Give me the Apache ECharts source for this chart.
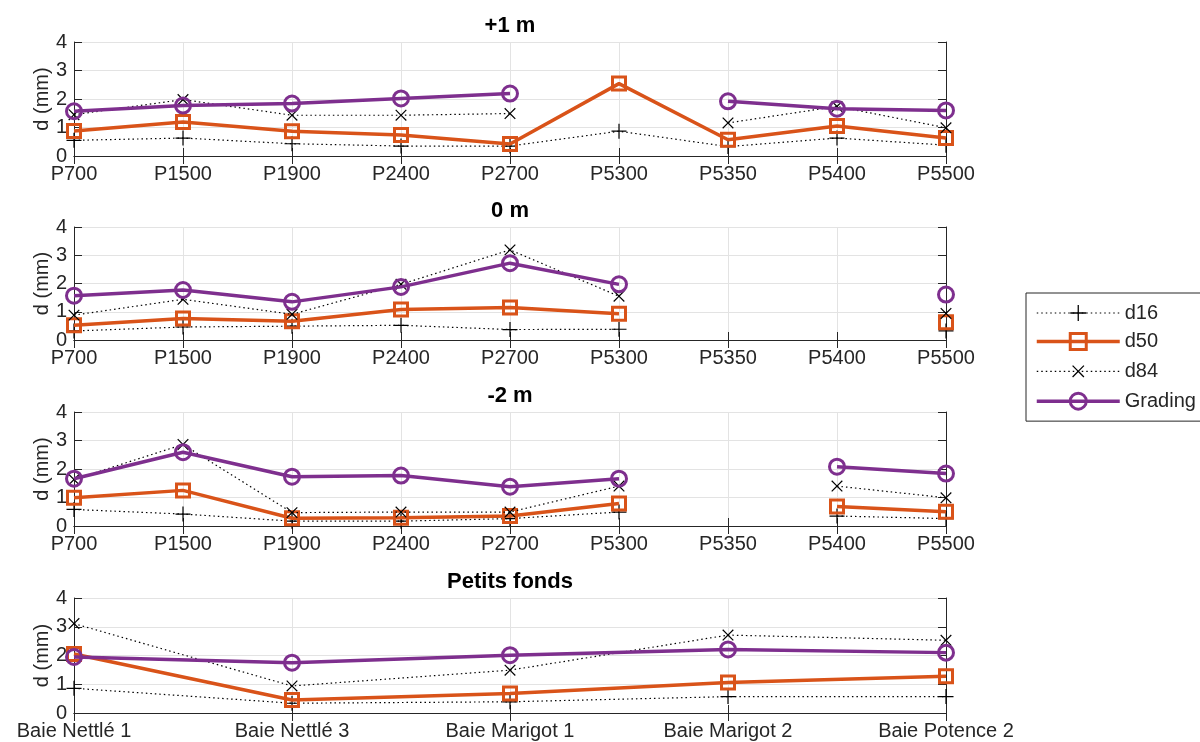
<!DOCTYPE html>
<html>
<head>
<meta charset="utf-8">
<script src="https://cdn.jsdelivr.net/npm/echarts@6/dist/echarts.min.js"></script>
<style>html,body{margin:0;padding:0;background:#fff}#c{width:1200px;height:742px}</style>
</head>
<body>
<div id="c"></div>
<script>
// ---- data ----
const cats = ['P700','P1500','P1900','P2400','P2700','P5300','P5350','P5400','P5500'];
const pfCats = ['Baie Nettlé 1','Baie Nettlé 3','Baie Marigot 1','Baie Marigot 2','Baie Potence 2'];
const panelTitles = ['+1 m','0 m','-2 m','Petits fonds'];
const seriesNames = ['d16','d50','d84','Grading'];
const yTicks = [0,1,2,3,4];

const p1_d16 = [0.55,0.63,0.43,0.35,0.35,0.87,0.33,0.63,0.38];
const p1_d50 = [0.88,1.19,0.87,0.74,0.42,2.54,0.57,1.05,0.63];
const p1_d84 = [1.45,1.98,1.43,1.43,1.49,null,1.16,1.74,0.99];
const p1_gr  = [1.57,1.77,1.84,2.02,2.19,null,1.92,1.66,1.60];

const p2_d16 = [0.32,0.46,0.49,0.52,0.37,0.38,null,null,0.32];
const p2_d50 = [0.52,0.76,0.66,1.08,1.15,0.93,null,null,0.63];
const p2_d84 = [0.88,1.44,0.91,1.97,3.19,1.55,null,null,0.94];
const p2_gr  = [1.57,1.77,1.35,1.88,2.72,1.97,null,null,1.61];

const p3_d16 = [0.58,0.42,0.17,0.17,0.26,0.49,null,0.35,0.26];
const p3_d50 = [0.99,1.25,0.27,0.29,0.35,0.79,null,0.68,0.50];
const p3_d84 = [1.63,2.86,0.47,0.49,0.49,1.40,null,1.40,0.99];
const p3_gr  = [1.66,2.59,1.73,1.77,1.38,1.66,null,2.08,1.84];

const p4_d16 = [0.86,0.34,0.39,0.57,0.57];
const p4_d50 = [2.05,0.45,0.68,1.06,1.28];
const p4_d84 = [3.11,0.94,1.49,2.71,2.53];
const p4_gr  = [1.95,1.75,2.01,2.21,2.10];

// ---- build ----
const panels = [
  {cats: cats, data: [p1_d16,p1_d50,p1_d84,p1_gr]},
  {cats: cats, data: [p2_d16,p2_d50,p2_d84,p2_gr]},
  {cats: cats, data: [p3_d16,p3_d50,p3_d84,p3_gr]},
  {cats: pfCats, data: [p4_d16,p4_d50,p4_d84,p4_gr]}
];
const gridTops = [42, 227, 412, 598];
const gridHeights = [114, 113, 114, 115];
const LEFT = 74, WIDTH = 872;
const TXT = '#262626';
const FONT = 'Liberation Sans, Arial, sans-serif';
const ORANGE = '#D95319', PURPLE = '#7E2F8E';
const PLUS = 'path://M-0.08,-1 L0.08,-1 L0.08,-0.08 L1,-0.08 L1,0.08 L0.08,0.08 L0.08,1 L-0.08,1 L-0.08,0.08 L-1,0.08 L-1,-0.08 L-0.08,-0.08 Z';

const grids = [], xAxes = [], yAxes = [], series = [], graphics = [];
panels.forEach((p, i) => {
  grids.push({left: LEFT, top: gridTops[i], width: WIDTH, height: gridHeights[i], containLabel: false});
});
panels.forEach((p, i) => {
  xAxes.push({
    type: 'category', gridIndex: i, data: p.cats, boundaryGap: false, position: 'bottom',
    axisLine: {show: true, lineStyle: {color: TXT, width: 1}},
    axisTick: {show: true, inside: true, length: 8, lineStyle: {color: TXT}},
    axisLabel: {color: TXT, fontSize: 20, fontFamily: FONT, margin: 8, interval: 0},
    splitLine: {show: true, lineStyle: {color: '#e3e3e3', width: 1}}
  });
});
panels.forEach((p, i) => {
  xAxes.push({
    type: 'category', gridIndex: i, data: p.cats, boundaryGap: false, position: 'top',
    axisLine: {show: true, lineStyle: {color: TXT, width: 1}},
    axisTick: {show: true, inside: true, length: 8, lineStyle: {color: TXT}},
    axisLabel: {show: false}, splitLine: {show: false}
  });
});
panels.forEach((p, i) => {
  yAxes.push({
    type: 'value', gridIndex: i, min: yTicks[0], max: yTicks[yTicks.length-1], interval: 1, position: 'left',
    name: 'd (mm)', nameLocation: 'middle', nameRotate: 90, nameGap: 22, nameMoveOverlap: false,
    nameTextStyle: {color: TXT, fontSize: 20, fontFamily: FONT},
    axisLine: {show: true, lineStyle: {color: TXT, width: 1}},
    axisTick: {show: true, inside: true, length: 8, lineStyle: {color: TXT}},
    axisLabel: {color: TXT, fontSize: 20, fontFamily: FONT, margin: 7},
    splitLine: {show: true, lineStyle: {color: '#e3e3e3', width: 1}}
  });
});
panels.forEach((p, i) => {
  yAxes.push({
    type: 'value', gridIndex: i, min: yTicks[0], max: yTicks[yTicks.length-1], interval: 1, position: 'right',
    axisLine: {show: true, lineStyle: {color: TXT, width: 1}},
    axisTick: {show: true, inside: true, length: 8, lineStyle: {color: TXT}},
    axisLabel: {show: false}, splitLine: {show: false}
  });
});

const styles = [
  {symbol: PLUS, symbolSize: 15, symbolRotate: 0,
   itemStyle: {color: '#000', borderWidth: 0},
   lineStyle: {color: '#000', width: 1.2, type: [1.5, 3]}},
  {symbol: 'rect', symbolSize: 13, symbolRotate: 0,
   itemStyle: {color: 'rgba(255,255,255,0)', borderColor: ORANGE, borderWidth: 3},
   lineStyle: {color: ORANGE, width: 3.5, type: 'solid'}},
  {symbol: PLUS, symbolSize: 15, symbolRotate: 45,
   itemStyle: {color: '#000', borderWidth: 0},
   lineStyle: {color: '#000', width: 1.2, type: [1.5, 3]}},
  {symbol: 'circle', symbolSize: 15, symbolRotate: 0,
   itemStyle: {color: 'rgba(255,255,255,0)', borderColor: PURPLE, borderWidth: 3},
   lineStyle: {color: PURPLE, width: 3.5, type: 'solid'}}
];

panels.forEach((p, i) => {
  p.data.forEach((arr, k) => {
    const s = styles[k];
    series.push({
      type: 'line', name: seriesNames[k], xAxisIndex: i, yAxisIndex: i,
      data: arr, connectNulls: false, showSymbol: true, showAllSymbol: true,
      symbol: s.symbol, symbolSize: s.symbolSize, symbolRotate: s.symbolRotate,
      itemStyle: s.itemStyle, lineStyle: s.lineStyle,
      emphasis: {disabled: true}, z: 2 + k
    });
  });
  graphics.push({
    type: 'text', x: LEFT + WIDTH / 2, y: gridTops[i] - 5,
    style: {text: panelTitles[i], fill: '#000', font: 'bold 22px ' + FONT, align: 'center', verticalAlign: 'bottom'}
  });
});

const legendData = seriesNames.map((n, k) => ({
  name: n,
  lineStyle: {width: styles[k].lineStyle.width, color: styles[k].lineStyle.color, type: styles[k].lineStyle.type},
  itemStyle: styles[k].itemStyle
}));

const chart = echarts.init(document.getElementById('c'), null, {renderer: 'canvas'});
chart.setOption({
  animation: false,
  backgroundColor: '#fff',
  grid: grids, xAxis: xAxes, yAxis: yAxes, series: series,
  graphic: graphics,
  legend: {
    data: legendData, orient: 'vertical', left: 1026, top: 293,
    itemWidth: 83, itemHeight: 20, itemGap: 8.5,
    padding: [10, 40, 10, 9],
    borderColor: TXT, borderWidth: 1, backgroundColor: '#fff',
    textStyle: {color: TXT, fontSize: 20, fontFamily: FONT},
    selectedMode: false
  }
});
</script>
</body>
</html>
